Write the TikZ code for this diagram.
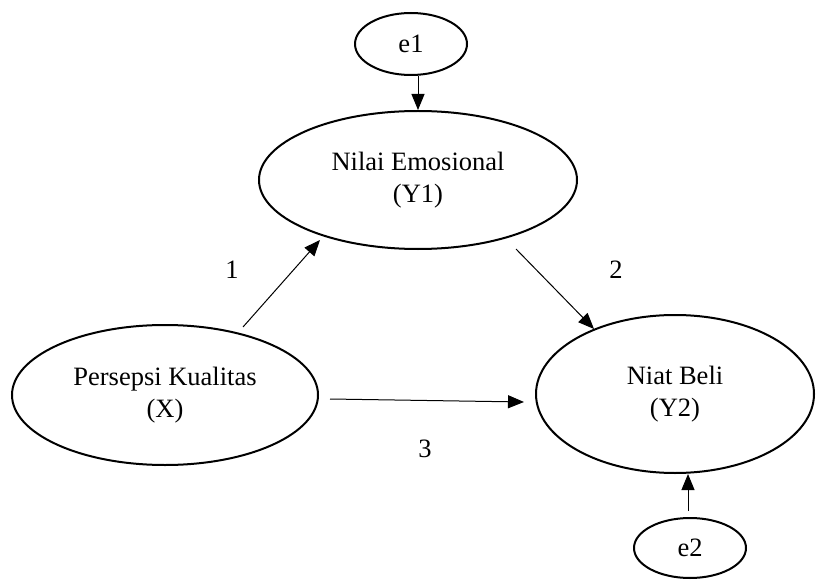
\documentclass[tikz,border=0pt]{standalone}
\usepackage{fontspec}
\setmainfont{Liberation Serif}
\usetikzlibrary{arrows.meta,shapes.geometric}
\begin{document}
\begin{tikzpicture}[x=1pt,y=-1pt,
  var/.style={draw,ellipse,line width=2pt,inner sep=0pt,align=center,
    font=\fontsize{26.5}{32}\selectfont},
  lbl/.style={font=\fontsize{26.5}{32}\selectfont,inner sep=0pt},
  arr/.style={line width=1pt,-{Triangle[length=16pt,width=13pt]}}]
\useasboundingbox (0,0) rectangle (819,580);
\node[var,minimum width=112pt,minimum height=62pt] (e1) at (411,44) {e1};
\node[var,minimum width=318pt,minimum height=138pt] (Y1) at (418,180) {Nilai Emosional\\(Y1)};
\node[var,minimum width=306pt,minimum height=140pt] (X) at (165,395) {Persepsi Kualitas\\(X)};
\node[var,minimum width=278pt,minimum height=158pt] (Y2) at (675,394) {Niat Beli\\(Y2)};
\node[var,minimum width=112pt,minimum height=60pt] (e2) at (690,548) {e2};
\coordinate (a1s) at (243,327);
\coordinate (a1e) at (320,240);
\coordinate (a2s) at (516,249);
\coordinate (a2e) at (594,329);
\coordinate (a3s) at (330,399);
\coordinate (a3e) at (524,402);
\draw[arr] ([xshift=7pt]e1.south) -- (Y1.north);
\draw[arr] (a1s) -- (a1e);
\draw[arr] (a2s) -- (a2e);
\draw[arr] (a3s) -- (a3e);
\draw[arr,shorten <=6pt] ([xshift=-2pt]e2.north) -- ([xshift=13pt]Y2.south);
\node[lbl] (n1) at (232,270) {1};
\node[lbl] (n2) at (616,270) {2};
\node[lbl] (n3) at (425,449) {3};
\end{tikzpicture}
\end{document}
